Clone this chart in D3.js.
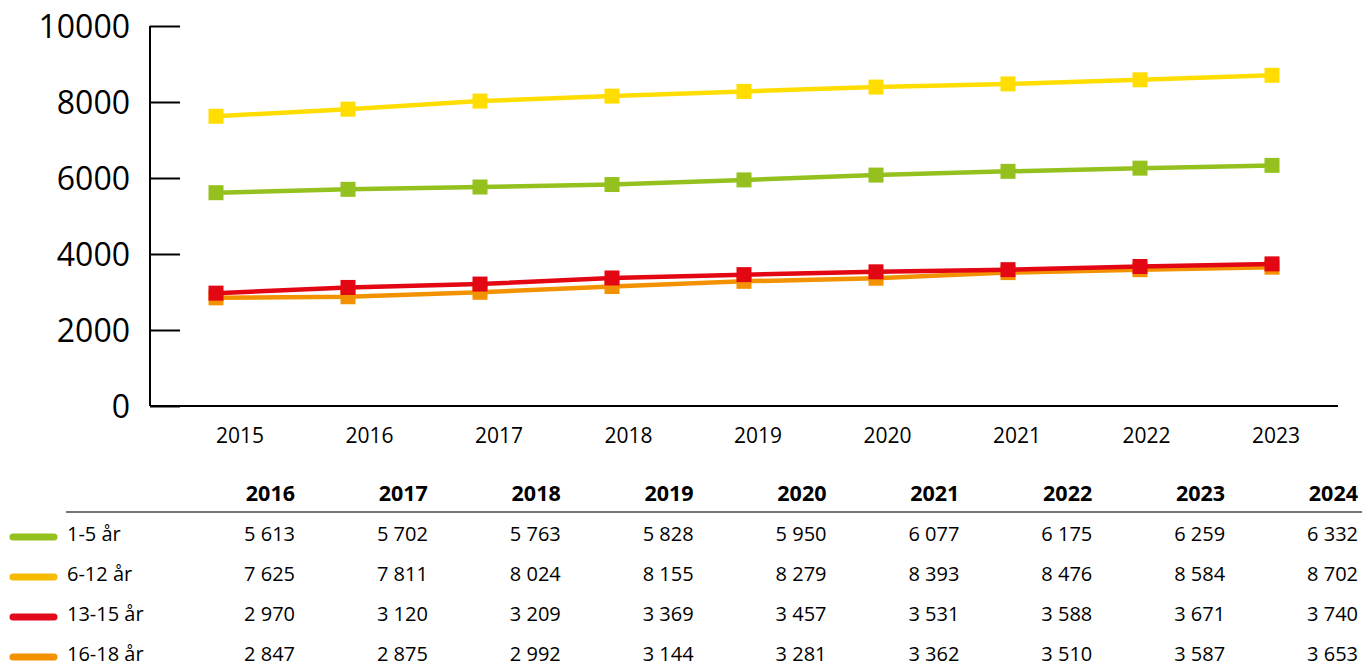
<!DOCTYPE html>
<html><head><meta charset="utf-8">
<script src="https://cdn.jsdelivr.net/npm/d3@7"></script>
<style>
html,body{margin:0;padding:0;background:#fff;}
svg{display:block;font-family:"Open Sans","Noto Sans",sans-serif;}
</style></head>
<body><svg id="c" width="1362" height="662"></svg>
<script>
const chartYears = ["2015","2016","2017","2018","2019","2020","2021","2022","2023"];
const tableYears = ["2016","2017","2018","2019","2020","2021","2022","2023","2024"];
const seriesNames = ["1-5 år","6-12 år","13-15 år","16-18 år"];
const v1_5   = [5613,5702,5763,5828,5950,6077,6175,6259,6332];
const v6_12  = [7625,7811,8024,8155,8279,8393,8476,8584,8702];
const v13_15 = [2970,3120,3209,3369,3457,3531,3588,3671,3740];
const v16_18 = [2847,2875,2992,3144,3281,3362,3510,3587,3653];
const yTicks = [0,2000,4000,6000,8000,10000];
const lineColors = ["#95c11f","#ffdd00","#e30613","#f39200"];
const legendColors = ["#95c11f","#f6bb00","#e20a1b","#f39200"];

const series = [v1_5, v6_12, v13_15, v16_18];
const svg = d3.select("#c");

const y = d3.scaleLinear().domain([0,10000]).range([406,26]);
const x = d3.scalePoint().domain(chartYears).range([216,1272]);
const xl = d3.scalePoint().domain(chartYears).range([240,1276]);

// y axis
const yAxis = svg.append("g").attr("transform","translate(150,0)")
  .call(d3.axisRight(y).tickValues(yTicks).tickSize(30).tickFormat(""));
yAxis.select(".domain").attr("stroke","#000").attr("stroke-width",2).attr("d","M0,26V406");
yAxis.selectAll(".tick line").attr("stroke","#000").attr("stroke-width",2);
svg.append("g").selectAll("text").data(yTicks).join("text")
  .attr("x",130).attr("y",d=>y(d)+12).attr("text-anchor","end")
  .attr("font-size",32).attr("fill","#000").text(d=>d);

// x axis
svg.append("line").attr("x1",150).attr("x2",1338).attr("y1",406).attr("y2",406)
  .attr("stroke","#000").attr("stroke-width",2);
svg.append("g").selectAll("text").data(chartYears).join("text")
  .attr("x",d=>xl(d)).attr("y",443).attr("text-anchor","middle")
  .attr("font-size",21).attr("fill","#000").text(d=>d);

// lines
const order = [0,1,3,2];
const line = d3.line().x((d,i)=>x(chartYears[i])).y(d=>y(d));
order.forEach(k=>{
  const g = svg.append("g");
  g.append("path").attr("d",line(series[k])).attr("fill","none")
    .attr("stroke",lineColors[k]).attr("stroke-width",4.5);
  g.selectAll("rect").data(series[k]).join("rect")
    .attr("x",(d,i)=>x(chartYears[i])-7.5).attr("y",d=>y(d)-7.5)
    .attr("width",15).attr("height",15).attr("fill",lineColors[k]);
});

// table
const colRight = d3.scalePoint().domain(tableYears).range([295,1358]);
svg.append("g").selectAll("text").data(tableYears).join("text")
  .attr("x",d=>colRight(d)).attr("y",501).attr("text-anchor","end")
  .attr("font-size",21.5).attr("font-weight","bold").attr("fill","#000").text(d=>d);
svg.append("line").attr("x1",66).attr("x2",1362).attr("y1",512).attr("y2",512)
  .attr("stroke","#777").attr("stroke-width",2);
const fmt = v => { const s=String(v); return s.slice(0,s.length-3)+" "+s.slice(-3); };
seriesNames.forEach((name,r)=>{
  const cy = 533 + r*40;
  svg.append("line").attr("x1",13).attr("x2",54).attr("y1",cy+4).attr("y2",cy+4)
    .attr("stroke",legendColors[r]).attr("stroke-width",7).attr("stroke-linecap","round");
  svg.append("text").attr("x",67).attr("y",cy+8).attr("font-size",20).attr("fill","#000").text(name);
  svg.append("g").selectAll("text").data(series[r]).join("text")
    .attr("x",(d,i)=>colRight(tableYears[i])).attr("y",cy+8).attr("text-anchor","end")
    .attr("font-size",20).attr("fill","#000").text(d=>fmt(d));
});
</script></body></html>
